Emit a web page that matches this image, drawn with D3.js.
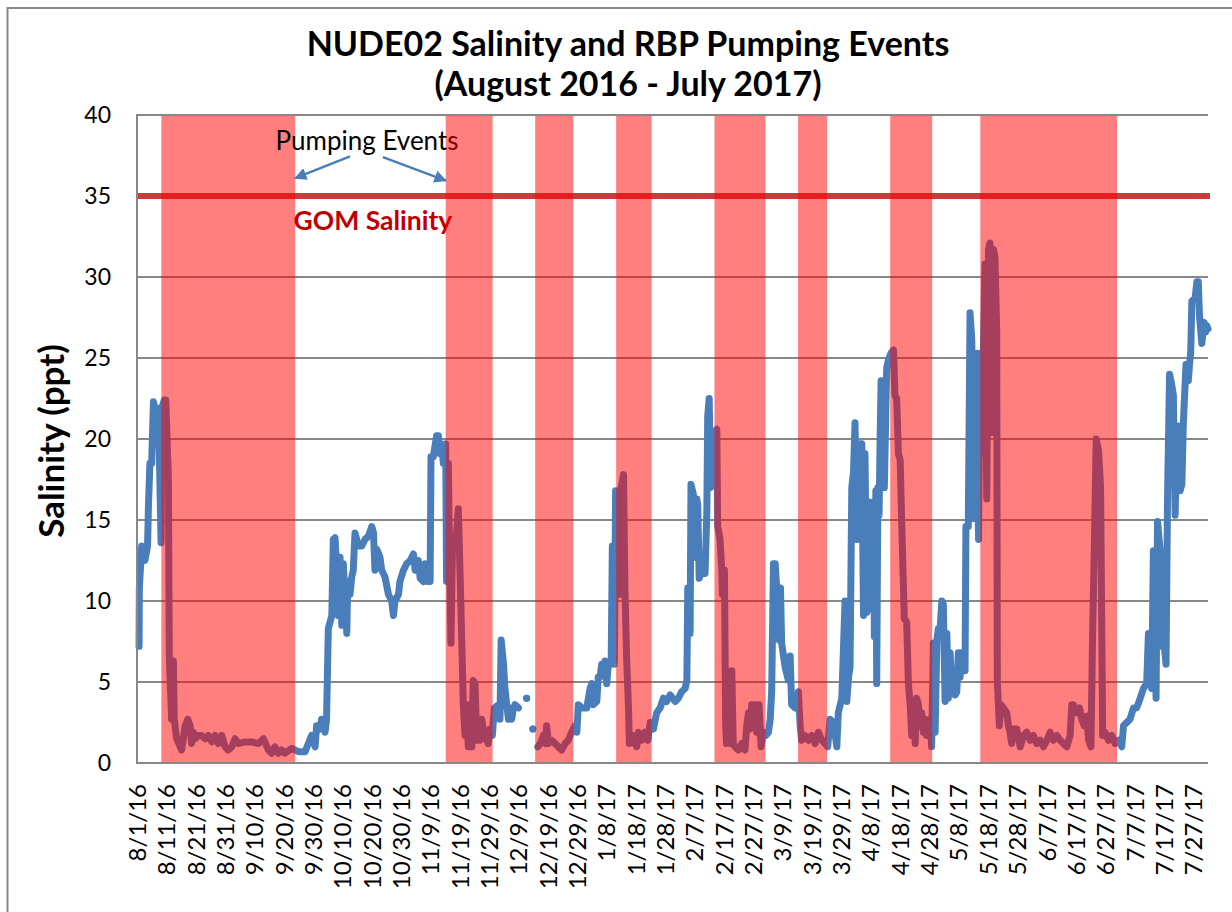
<!DOCTYPE html>
<html>
<head>
<meta charset="utf-8">
<script src="https://cdn.jsdelivr.net/npm/d3@7"></script>
<style>
  body { margin: 0; background: #fff; }
  svg { display: block; font-family: Lato, "Open Sans", sans-serif; }
</style>
</head>
<body>
<div id="chart"></div>
<script>
// day offsets below count from the start of the record
var startDate = new Date(2016, 7, 1);
var endDate = new Date(2017, 7, 1);

// salinity readings (ppt); null = no data
var days = [
  0.7, 0.8, 1.6, 2.2, 2.7, 3.6, 3.9, 4.4, 5.0, 5.6,
  6.1, 6.4, 7.0, 7.5, 8.2, 8.4, 9.3, 9.8, 10.7, 11.0,
  11.8, 12.4, 12.7, 13.5, 15.2, 15.8, 16.4, 17.3, 18.1, 18.6,
  19.2, 19.8, 20.9, 22.0, 23.2, 24.3, 25.5, 26.6, 27.7, 28.9,
  30.0, 31.1, 32.3, 33.4, 34.5, 36.8, 39.1, 41.4, 43.1, 44.8,
  45.9, 47.0, 48.2, 49.3, 50.4, 52.7, 53.9, 55.0, 57.3, 58.4,
  59.5, 60.7, 61.2, 62.4, 62.9, 64.1, 64.6, 65.2, 66.4, 66.9,
  67.5, 68.1, 68.6, 69.2, 69.8, 70.3, 70.9, 71.5, 71.8, 72.6,
  73.2, 73.7, 74.3, 74.9, 75.4, 76.6, 77.7, 78.9, 80.0, 80.6,
  81.1, 81.7, 82.8, 83.4, 84.5, 85.7, 86.8, 87.4, 87.9, 89.1,
  89.6, 90.8, 91.9, 93.1, 94.2, 94.8, 95.9, 96.5, 97.6, 98.2,
  99.1, 99.9, 100.2, 101.0, 102.1, 102.7, 103.3, 103.8, 104.4, 105.2,
  105.5, 106.1, 106.4, 107.0, 107.5, 108.4, 109.0, 109.5, 110.1, 110.7,
  111.2, 111.8, 112.4, 112.9, 113.5, 114.1, 114.6, 115.2, 115.8, 116.3,
  116.9, 117.5, 118.0, 118.6, 119.2, 119.7, 120.3, 121.1, 121.8, 123.2,
  123.7, 124.1, 124.9, 125.4, 126.0, 126.6, 127.1, 127.7, 128.3, 128.8,
  130.0, 131.4, 132.8, 133.9, 134.9, 135.8, 136.6, 137.4, 137.9, 138.5,
  139.1, 139.6, 140.2, 141.3, 142.5, 143.6, 144.7, 145.9, 147.0, 148.1,
  149.3, 149.9, 150.4, 151.6, 153.3, 154.4, 155.0, 155.5, 156.7, 157.2,
  157.8, 158.4, 158.9, 159.5, 160.1, 160.6, 161.6, 162.0, 162.7, 163.1,
  163.8, 164.3, 165.0, 165.8, 166.3, 166.9, 167.5, 167.8, 168.6, 169.2,
  169.7, 170.3, 170.9, 171.4, 172.0, 173.1, 174.1, 174.9, 176.0, 177.1,
  178.3, 179.4, 180.5, 181.7, 183.4, 184.5, 185.6, 186.8, 187.4, 187.7,
  188.5, 188.8, 189.6, 190.2, 190.8, 191.1, 191.6, 192.2, 193.0, 193.6,
  194.2, 194.5, 195.0, 195.5, 196.1, 196.8, 197.6, 197.9, 198.7, 199.3,
  199.5, 200.2, 200.6, 200.9, 201.5, 202.1, 202.7, 203.2, 203.8, 204.9,
  206.1, 207.2, 207.8, 208.4, 208.9, 209.5, 210.1, 210.6, 211.2, 212.0,
  212.7, 213.5, 214.3, 215.2, 215.8, 216.3, 216.9, 217.5, 218.0, 218.8,
  219.3, 219.7, 220.9, 222.0, 222.6, 223.1, 224.3, 225.4, 226.0, 226.5,
  227.6, 228.8, 229.9, 231.1, 232.2, 233.4, 234.5, 235.4, 236.2, 237.4,
  238.5, 239.0, 240.2, 241.3, 241.9, 242.5, 243.0, 243.6, 244.2, 244.7,
  245.3, 245.9, 246.4, 247.0, 247.6, 248.1, 248.7, 249.3, 249.8, 250.4,
  251.0, 251.3, 251.8, 252.1, 252.5, 252.9, 253.2, 253.6, 254.4, 254.7,
  255.5, 256.1, 257.0, 257.8, 258.3, 258.9, 259.5, 260.1, 260.6, 261.5,
  262.3, 262.9, 263.5, 264.0, 264.6, 265.2, 265.7, 266.3, 266.9, 267.4,
  268.0, 268.6, 269.1, 270.3, 270.8, 271.4, 272.0, 272.6, 273.1, 273.7,
  274.3, 274.8, 275.4, 276.0, 276.5, 277.1, 277.7, 278.2, 278.8, 279.4,
  279.9, 280.5, 281.1, 281.6, 282.2, 282.5, 283.3, 283.9, 284.5, 285.1,
  285.6, 286.2, 286.8, 287.3, 287.9, 288.5, 289.0, 289.6, 290.2, 290.7,
  291.3, 291.9, 292.4, 293.0, 293.2, 293.9, 294.4, 295.3, 296.4, 297.0,
  297.5, 298.1, 298.7, 299.8, 301.0, 302.1, 303.2, 304.4, 305.5, 306.6,
  307.8, 308.9, 310.1, 311.2, 312.3, 313.5, 314.6, 315.7, 316.9, 318.0,
  318.6, 319.1, 320.3, 321.2, 322.0, 322.8, 323.7, 324.3, 325.1, 325.7,
  326.2, 326.9, 327.7, 328.4, 329.1, 329.9, 331.1, 332.2, 333.3, 334.5,
  335.6, 336.2, 337.3, 338.4, 339.6, 340.7, 341.9, 343.0, 344.1, 344.7,
  345.3, 345.8, 346.4, 347.3, 347.8, 348.7, 349.2, 349.8, 350.7, 351.2,
  351.9, 352.6, 353.2, 353.8, 354.4, 354.9, 355.5, 356.1, 356.6, 357.5,
  358.3, 358.7, 359.1, 359.5, 360.6, 361.2, 361.7, 362.1, 362.9, 363.7,
  364.2, 364.6, 365.0
];
var salinity = [
  7.2, 10.8, 13.4, 12.9, 12.5, 13.4, 15.9, 18.5, 18.5, 22.3,
  21.9, 20.4, 21.9, 20.2, 13.6, 21.9, 22.4, 22.4, 17.6, 6.6,
  2.7, 6.3, 2.7, 1.5, 0.8, 1.5, 2.3, 2.7, 2.3, 1.2,
  1.9, 1.5, 1.7, 1.7, 1.5, 1.7, 1.3, 1.7, 1.2, 1.7,
  1.0, 0.8, 1.0, 1.5, 1.2, 1.3, 1.3, 1.2, 1.5, 0.8,
  0.6, 1.0, 0.6, 0.8, 0.6, 0.9, 0.8, 0.7, 0.7, 1.2,
  1.7, 1.0, 2.3, 2.1, 2.7, 1.9, 2.7, 8.3, 9.1, 13.8,
  13.9, 11.7, 9.1, 12.7, 8.5, 12.3, 10.2, 8.0, 11.2, 10.4,
  11.5, 11.9, 14.2, 13.8, 13.4, 13.4, 13.8, 14.0, 14.6, 14.2,
  11.9, 13.2, 12.7, 11.9, 11.5, 10.4, 10.0, 9.1, 10.0, 10.4,
  11.2, 11.9, 12.3, 12.5, 12.9, 11.9, 12.5, 11.4, 11.2, 12.3,
  11.2, 11.2, 18.9, 18.9, 20.2, 20.2, 19.1, 19.7, 18.5, 19.7,
  11.2, 18.5, 14.4, 7.4, 13.4, 13.4, 14.4, 15.7, 11.7, 7.4,
  3.6, 1.7, 3.6, 1.0, 2.1, 1.0, 5.1, 4.9, 1.4, 2.5,
  1.4, 2.7, 2.1, 1.9, 1.4, 1.2, 2.1, 1.7, 3.4, 3.6,
  2.7, 7.6, 6.1, 4.6, 3.6, 2.7, 3.4, 2.7, 3.4, 3.6,
  3.4, null, 4.0, null, 2.1, null, 1.0, 1.2, 1.4, 1.7,
  1.2, 2.3, 1.2, 1.4, 1.2, 1.0, 0.8, 1.2, 1.4, 1.9,
  2.3, 1.9, 3.6, 3.4, 3.4, 4.6, 4.9, 3.6, 3.8, 5.3,
  5.3, 6.1, 5.7, 6.3, 4.9, 6.1, 6.1, 13.4, 6.1, 16.8,
  12.9, 10.4, 17.0, 17.8, 10.6, 6.3, 3.4, 1.2, 1.7, 1.2,
  1.7, 1.0, 1.9, 1.7, 1.4, 1.9, 1.4, 2.5, 2.1, 3.1,
  3.4, 4.0, 3.8, 4.2, 3.8, 4.0, 4.4, 4.6, 5.1, 10.8,
  8.0, 17.2, 16.6, 12.7, 16.3, 15.9, 11.4, 11.7, 11.9, 11.7,
  15.5, 21.4, 22.5, 17.0, 17.2, 20.4, 20.6, 14.6, 13.8, 11.9,
  10.4, 11.9, 2.5, 1.2, 1.7, 1.2, 5.7, 1.2, 1.0, 0.8,
  1.2, 0.8, 2.3, 3.1, 2.1, 3.6, 2.3, 3.6, 1.9, 3.6,
  1.0, 1.9, 1.7, 1.9, 2.7, 4.4, 12.3, 12.3, 10.8, 7.6,
  10.8, 7.4, 5.9, 5.1, 6.6, 3.6, 3.4, 4.4, 2.3, 1.4,
  1.7, 1.4, 1.7, 1.2, 1.9, 1.4, 1.2, 1.0, 2.7, 2.5,
  1.0, 3.1, 4.0, 10.0, 3.8, 5.3, 5.9, 17.0, 18.0, 21.0,
  13.8, 19.7, 13.8, 19.7, 9.1, 19.1, 9.3, 15.9, 16.1, 9.5,
  16.1, 7.8, 16.8, 4.9, 17.0, 15.3, 19.3, 23.6, 23.6, 17.0,
  24.4, 24.9, 25.3, 25.5, 22.7, 22.5, 19.1, 18.7, 14.9, 8.9,
  8.7, 4.9, 3.6, 1.7, 3.1, 1.2, 4.0, 3.6, 2.3, 3.1,
  1.9, 2.7, 1.7, 2.7, 1.0, 7.4, 1.9, 7.6, 8.3, 8.3,
  10.0, 9.8, 3.8, 8.0, 4.0, 6.8, 4.4, 5.7, 4.2, 4.4,
  6.8, 5.3, 6.8, 5.7, 5.7, 14.6, 14.6, 27.8, 26.1, 15.1,
  21.2, 25.3, 13.8, 25.3, 19.1, 25.9, 30.8, 16.3, 31.7, 32.1,
  20.4, 31.7, 31.2, 26.6, 5.1, 2.3, 3.6, 3.4, 3.1, 2.3,
  1.9, 1.2, 2.1, 2.1, 1.0, 1.7, 1.9, 1.4, 1.7, 1.2,
  1.4, 1.0, 1.4, 1.9, 1.4, 1.7, 1.4, 1.2, 1.0, 1.7,
  3.6, 3.6, 3.1, 3.4, 2.7, 2.3, 2.9, 1.4, 1.0, 8.3,
  12.7, 20.0, 19.3, 17.0, 1.7, 1.9, 1.4, 1.7, 1.2, 1.4,
  1.0, 2.3, 2.5, 2.7, 3.4, 3.4, 4.0, 4.6, 4.9, 8.0,
  8.0, 4.6, 13.1, 4.0, 14.9, 13.1, 7.2, 7.8, 6.1, 16.3,
  24.0, 23.4, 22.7, 15.3, 20.6, 20.8, 16.8, 17.2, 21.0, 24.6,
  23.6, 24.6, 25.3, 28.5, 28.7, 29.7, 29.7, 27.6, 25.9, 27.2,
  26.6, 27.0, 26.8
];

// RBP pumping events, start / end as day offsets
var pumpStart = [8.3, 105.2, 135.7, 163.3, 196.8, 225.3, 256.7, 287.4];
var pumpEnd = [53.9, 121.2, 148.7, 175.4, 214.2, 235.2, 271.0, 334.0];

var gomSalinity = 35;

var yTicks = [0, 5, 10, 15, 20, 25, 30, 35, 40];
var xTickLabels = [
  "8/1/16", "8/11/16", "8/21/16", "8/31/16", "9/10/16", "9/20/16", "9/30/16",
  "10/10/16", "10/20/16", "10/30/16", "11/9/16", "11/19/16", "11/29/16",
  "12/9/16", "12/19/16", "12/29/16", "1/8/17", "1/18/17", "1/28/17", "2/7/17",
  "2/17/17", "2/27/17", "3/9/17", "3/19/17", "3/29/17", "4/8/17", "4/18/17",
  "4/28/17", "5/8/17", "5/18/17", "5/28/17", "6/7/17", "6/17/17", "6/27/17",
  "7/7/17", "7/17/17", "7/27/17"
];

var width = 1232,
    height = 912;
var margin = {top: 115, right: 24, bottom: 149, left: 137};
var gridColor = "#888888";

function dayToDate(d) {
  return new Date(startDate.getTime() + d * 864e5);
}

var data = days.map(function(d, i) {
  return {date: dayToDate(d), value: salinity[i]};
});

var x = d3.scaleTime()
    .domain([startDate, endDate])
    .range([margin.left, width - margin.right]);

var y = d3.scaleLinear()
    .domain([0, 40])
    .range([height - margin.bottom, margin.top]);

var svg = d3.select("#chart").append("svg")
    .attr("width", width)
    .attr("height", height);

svg.append("defs").append("marker")
    .attr("id", "arrow")
    .attr("viewBox", "0 0 10 10")
    .attr("refX", 9)
    .attr("refY", 5)
    .attr("markerWidth", 5)
    .attr("markerHeight", 5)
    .attr("orient", "auto")
  .append("path")
    .attr("d", "M0,0L10,5L0,10z")
    .attr("fill", "#4a7ebb");

// chart area frame (only left and top edges are in the picture)
svg.append("rect")
    .attr("x", 7.5)
    .attr("y", 8)
    .attr("width", width + 20)
    .attr("height", height + 20)
    .attr("fill", "none")
    .attr("stroke", gridColor)
    .attr("stroke-width", 2);

// title
var title = svg.append("text")
    .attr("text-anchor", "middle")
    .style("font-weight", "bold")
    .style("font-size", "34px");
title.append("tspan").attr("x", 628).attr("y", 56)
    .text("NUDE02 Salinity and RBP Pumping Events");
title.append("tspan").attr("x", 628).attr("y", 96)
    .text("(August 2016 - July 2017)");

// horizontal gridlines
svg.append("g")
  .selectAll("line")
  .data(yTicks.filter(function(d) { return d > 0 && d < 40; }))
  .enter().append("line")
    .attr("x1", margin.left)
    .attr("x2", width - margin.right)
    .attr("y1", function(d) { return y(d); })
    .attr("y2", function(d) { return y(d); })
    .attr("stroke", gridColor)
    .attr("stroke-width", 2);

// Gulf of Mexico reference salinity
svg.append("line")
    .attr("x1", margin.left)
    .attr("x2", width - margin.right + 2)
    .attr("y1", y(gomSalinity))
    .attr("y2", y(gomSalinity))
    .attr("stroke", "#c83c3c")
    .attr("stroke-width", 6);

// salinity series
var line = d3.line()
    .defined(function(d) { return d.value != null; })
    .x(function(d) { return x(d.date); })
    .y(function(d) { return y(d.value); });

svg.append("path")
    .datum(data)
    .attr("d", line)
    .attr("fill", "none")
    .attr("stroke", "#4a7ebb")
    .attr("stroke-width", 7)
    .attr("stroke-linejoin", "round")
    .attr("stroke-linecap", "round");

// single readings with no neighbours show up as dots
var lonely = data.filter(function(d, i) {
  return d.value != null &&
    (i == 0 || data[i - 1].value == null) &&
    (i == data.length - 1 || data[i + 1].value == null);
});
svg.append("g")
  .selectAll("circle")
  .data(lonely)
  .enter().append("circle")
    .attr("cx", function(d) { return x(d.date); })
    .attr("cy", function(d) { return y(d.value); })
    .attr("r", 3.5)
    .attr("fill", "#4a7ebb");

// pumping event bands, semi transparent over the series
function drawBands(idx) {
  svg.append("g")
    .selectAll("rect")
    .data(idx)
    .enter().append("rect")
      .attr("x", function(i) { return x(dayToDate(pumpStart[i])); })
      .attr("width", function(i) {
        return x(dayToDate(pumpEnd[i])) - x(dayToDate(pumpStart[i]));
      })
      .attr("y", y(40))
      .attr("height", y(0) - y(40))
      .attr("fill", "#ff0000")
      .attr("fill-opacity", 0.5);
}
// the second band sits above the annotation, the rest below it
drawBands(pumpStart.map(function(d, i) { return i; }).filter(function(i) { return i != 1; }));

// annotations
svg.append("text")
    .attr("x", x(dayToDate(78.4)))
    .attr("y", y(37.85))
    .attr("text-anchor", "middle")
    .style("font-size", "26px")
    .text("Pumping Events");

svg.append("text")
    .attr("x", x(dayToDate(80.4)))
    .attr("y", y(32.9))
    .attr("text-anchor", "middle")
    .style("font-size", "26.5px")
    .style("font-weight", "bold")
    .attr("fill", "#c00000")
    .text("GOM Salinity");

var arrows = [
  {from: [72.6, 37.45], to: [pumpEnd[0], 36.1]},
  {from: [83.8, 37.4], to: [pumpStart[1], 35.95]}
];
svg.append("g")
  .selectAll("line")
  .data(arrows)
  .enter().append("line")
    .attr("x1", function(d) { return x(dayToDate(d.from[0])); })
    .attr("y1", function(d) { return y(d.from[1]); })
    .attr("x2", function(d) { return x(dayToDate(d.to[0])); })
    .attr("y2", function(d) { return y(d.to[1]); })
    .attr("stroke", "#4a7ebb")
    .attr("stroke-width", 2.5)
    .attr("marker-end", "url(#arrow)");

drawBands([1]);

// top border of the plot
svg.append("line")
    .attr("x1", margin.left)
    .attr("x2", width - margin.right)
    .attr("y1", y(40))
    .attr("y2", y(40))
    .attr("stroke", gridColor)
    .attr("stroke-width", 2);

// x axis
var parseTick = d3.timeParse("%m/%d/%y");
var xAxis = svg.append("g")
    .attr("transform", "translate(0," + y(0) + ")")
    .call(d3.axisBottom(x)
      .tickValues(xTickLabels.map(parseTick))
      .tickFormat(d3.timeFormat("%-m/%-d/%y"))
      .tickSize(0));
xAxis.select(".domain").remove();
xAxis.selectAll("text")
    .attr("transform", "rotate(-90)")
    .attr("x", -21)
    .attr("y", 0)
    .attr("dy", "0.35em")
    .attr("text-anchor", "end")
    .attr("fill", "#000")
    .style("font-size", "24px")
    .style("font-family", "Lato, sans-serif");

// y axis
var yAxis = svg.append("g")
    .attr("transform", "translate(" + margin.left + ",0)")
    .call(d3.axisLeft(y).tickValues(yTicks).tickSize(0).tickPadding(26));
yAxis.select(".domain").remove();
yAxis.selectAll("text")
    .attr("fill", "#000")
    .style("font-size", "23px")
    .style("font-family", "Lato, sans-serif");

// axis lines
svg.append("line")
    .attr("x1", margin.left).attr("x2", margin.left)
    .attr("y1", y(40) - 1).attr("y2", y(0) + 1)
    .attr("stroke", gridColor).attr("stroke-width", 2);
svg.append("line")
    .attr("x1", margin.left).attr("x2", width - margin.right)
    .attr("y1", y(0)).attr("y2", y(0))
    .attr("stroke", gridColor).attr("stroke-width", 2);

svg.append("text")
    .attr("transform", "translate(64," + ((y(0) + y(40)) / 2 + 2) + ") rotate(-90)")
    .attr("text-anchor", "middle")
    .style("font-weight", "bold")
    .style("font-size", "35px")
    .text("Salinity (ppt)");
</script>
</body>
</html>
